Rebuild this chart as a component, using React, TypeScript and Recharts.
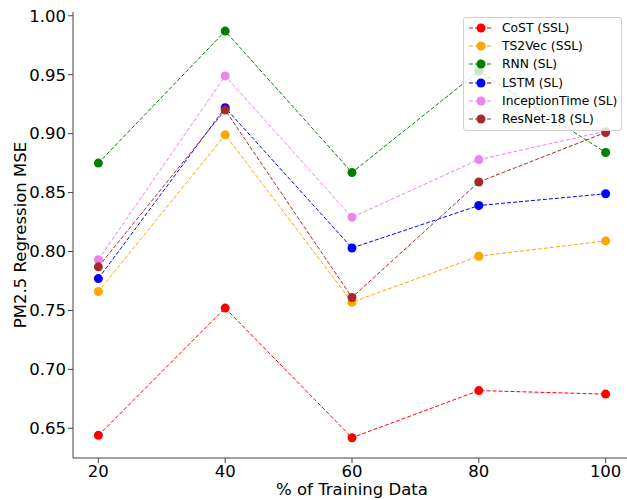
import React from "react"
import { LineChart, Line, XAxis, YAxis, Label } from "recharts"

const pcts = [20, 40, 60, 80, 100]
const cost = [0.644, 0.752, 0.642, 0.682, 0.679]
const ts2vec = [0.766, 0.899, 0.757, 0.796, 0.809]
const rnn = [0.875, 0.987, 0.867, 0.953, 0.884]
const lstm = [0.777, 0.922, 0.803, 0.839, 0.849]
const inception = [0.793, 0.949, 0.829, 0.878, 0.902]
const resnet = [0.787, 0.92, 0.761, 0.859, 0.901]

const xTicks = [20, 40, 60, 80, 100]
const yTicks = [0.65, 0.7, 0.75, 0.8, 0.85, 0.9, 0.95, 1.0]

const series = [
  { key: "cost", name: "CoST (SSL)", color: "#ff0000", values: cost },
  { key: "ts2vec", name: "TS2Vec (SSL)", color: "#ffa500", values: ts2vec },
  { key: "rnn", name: "RNN (SL)", color: "#008000", values: rnn },
  { key: "lstm", name: "LSTM (SL)", color: "#0000ff", values: lstm },
  { key: "inception", name: "InceptionTime (SL)", color: "#ee82ee", values: inception },
  { key: "resnet", name: "ResNet-18 (SL)", color: "#a52a2a", values: resnet },
]

const data = pcts.map((p, i) => {
  const row: Record<string, number> = { pct: p }
  series.forEach((s) => (row[s.key] = s.values[i]))
  return row
})

const font = "'DejaVu Sans', sans-serif"
const axisColor = "#444"

function LegendBox() {
  return (
    <div
      style={{
        position: "absolute",
        left: 463,
        top: 17,
        width: 157,
        height: 111,
        border: "1px solid #d0d0d0",
        borderRadius: 3,
        background: "rgba(255,255,255,0.8)",
        fontFamily: font,
        fontSize: 12.3,
        color: "#000",
        paddingTop: 1,
        boxSizing: "content-box",
      }}
    >
      {series.map((s) => (
        <div key={s.key} style={{ height: 18.2, display: "flex", alignItems: "center" }}>
          <svg width={38} height={18} style={{ flex: "none" }}>
            <line x1={5} y1={9} x2={28} y2={9} stroke={s.color} strokeWidth={1} strokeDasharray="4 2" />
            <circle cx={17} cy={9} r={4.5} fill={s.color} />
          </svg>
          <span style={{ whiteSpace: "nowrap" }}>{s.name}</span>
        </div>
      ))}
    </div>
  )
}

export default function App() {
  return (
    <div style={{ position: "absolute", left: 0, top: 0, width: 627, height: 500, overflow: "hidden", background: "#fff" }}>
      <LineChart width={640} height={500} data={data} margin={{ top: 12, right: 9, bottom: 0, left: 0 }}>
        <XAxis
          xAxisId="top"
          orientation="top"
          type="number"
          dataKey="pct"
          domain={[16, 104]}
          height={0}
          tick={false}
          tickLine={false}
          stroke="#000"
        />
        <XAxis
          dataKey="pct"
          type="number"
          domain={[16, 104]}
          ticks={xTicks}
          height={42}
          tickSize={5}
          tickMargin={2}
          stroke={axisColor}
          tick={{ fill: "#000", fontSize: 16.5, fontFamily: font }}
        >
          <Label
            content={({ viewBox }: any) => (
              <text
                x={viewBox.x + viewBox.width / 2}
                y={viewBox.y + 37}
                textAnchor="middle"
                fontSize={16.5}
                fontFamily={font}
                fill="#000"
              >
                % of Training Data
              </text>
            )}
          />
        </XAxis>
        <YAxis
          type="number"
          domain={[0.6248, 1.0032]}
          ticks={yTicks}
          width={73}
          tickSize={5}
          tickMargin={2}
          stroke={axisColor}
          tickFormatter={(v: number) => v.toFixed(2)}
          tick={{ fill: "#000", fontSize: 16.5, fontFamily: font }}
        >
          <Label
            content={({ viewBox }: any) => {
              const cy = viewBox.y + viewBox.height / 2
              return (
                <text
                  x={26}
                  y={cy}
                  transform={`rotate(-90 26 ${cy})`}
                  textAnchor="middle"
                  fontSize={16.5}
                  fontFamily={font}
                  fill="#000"
                >
                  PM2.5 Regression MSE
                </text>
              )
            }}
          />
        </YAxis>
        {series.map((s) => (
          <Line
            key={s.key}
            dataKey={s.key}
            name={s.name}
            type="linear"
            stroke={s.color}
            strokeWidth={1}
            strokeDasharray="4 2"
            dot={{ r: 4.5, fill: s.color, stroke: "none", strokeDasharray: "" }}
            activeDot={false}
            isAnimationActive={false}
          />
        ))}
      </LineChart>
      <LegendBox />
    </div>
  )
}
